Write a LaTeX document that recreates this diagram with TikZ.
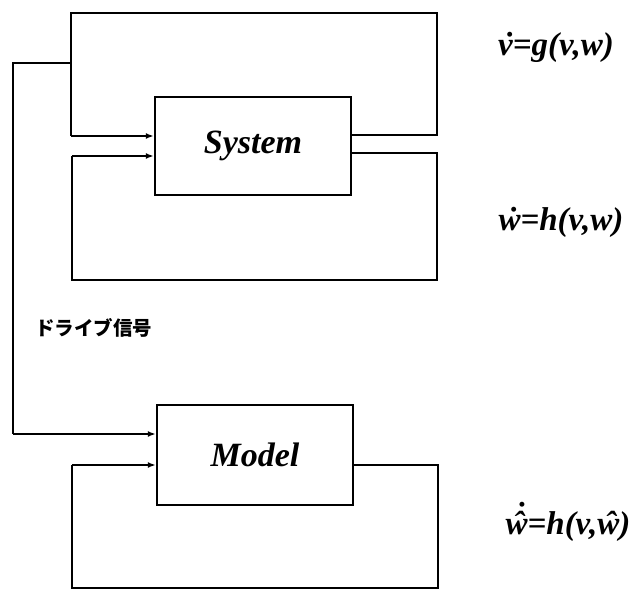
\documentclass[tikz,border=0pt]{standalone}
\usepackage{fontspec}
\setmainfont{Liberation Serif}
\newfontfamily\jpfont{Noto Sans CJK JP}
\usetikzlibrary{arrows.meta}
\newcommand\dotacc[1]{\ooalign{#1\cr\hidewidth\kern0.14em ˙\hidewidth\cr}}
\newcommand\hatdotacc[1]{\ooalign{#1\cr\hidewidth\kern0.12em ˆ\hidewidth\cr\hidewidth\kern0.22em\raisebox{0.30em}{˙}\hidewidth\cr}}
\newcommand\hatacc[1]{\ooalign{#1\cr\hidewidth\kern0.12em ˆ\hidewidth\cr}}
\tikzset{
  blk/.style={draw, line width=2.4pt, minimum width=196pt, minimum height=98pt,
    inner sep=0pt, font=\fontsize{34}{40}\selectfont\bfseries\itshape},
  wire/.style={line width=2.4pt},
  arr/.style={line width=2.4pt, -{Latex[length=8pt,width=6pt]}},
  eqlab/.style={inner sep=0pt, font=\fontsize{33}{38}\selectfont\bfseries\itshape},
  jplab/.style={inner sep=0pt, anchor=west, font=\fontsize{19.5}{22}\selectfont\jpfont\bfseries}
}
\begin{document}
\begin{tikzpicture}[x=1pt,y=-1pt]
\useasboundingbox (0,0) rectangle (635,591);
% blocks
\node[blk] (sys) at (253,146) {System};
\node[blk, minimum height=100pt] (mod) at (255,455) {Model};
% top loop
\coordinate (ta) at (437,135);
\coordinate (tb) at (437,13);
\coordinate (tc) at (71,13);
\coordinate (td) at (71,136);
\draw[wire] (sys.east |- ta) -- (ta) -- (tb) -- (tc) -- (td);
\draw[arr] (td) -- (sys.west |- td);
% lower loop
\coordinate (ba) at (437,153);
\coordinate (bb) at (437,280);
\coordinate (bc) at (72,280);
\coordinate (bd) at (72,156);
\draw[wire] (sys.east |- ba) -- (ba) -- (bb) -- (bc) -- (bd);
\draw[arr] (bd) -- (sys.west |- bd);
% drive signal
\coordinate (da) at (71,63);
\coordinate (db) at (13,63);
\coordinate (dc) at (13,434);
\draw[wire] (da) -- (db) -- (dc);
\draw[arr] (dc) -- (mod.west |- dc);
% model loop
\coordinate (ma) at (438,465);
\coordinate (mb) at (438,588);
\coordinate (mc) at (72,588);
\coordinate (md) at (72,465);
\draw[wire] (mod.east |- ma) -- (ma) -- (mb) -- (mc) -- (md);
\draw[arr] (md) -- (mod.west |- md);
% labels
\node[eqlab] (eq1) at (556,48) {\dotacc{v}=g(v,w)};
\node[eqlab] (eq2) at (561,223) {\dotacc{w}=h(v,w)};
\node[eqlab] (eq3) at (568,527) {\hatdotacc{w}=h(v,\hatacc{w})};
\node[jplab] (drv) at (35,328) {ドライブ信号};
\end{tikzpicture}
\end{document}
